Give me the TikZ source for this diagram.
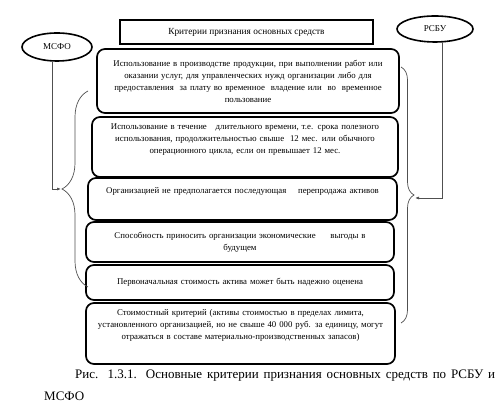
\documentclass[tikz,border=0pt]{standalone}
\usepackage{fontspec}
\setmainfont{Liberation Serif}
\usetikzlibrary{arrows.meta,decorations.pathreplacing,shapes.geometric}
\definecolor{linegray}{HTML}{505050}

\begin{document}
\begin{tikzpicture}[x=1pt,y=1pt,>=Latex,
  critbox/.style={rounded corners=8pt,draw=black,line width=1.7pt,
    text width=296pt,align=center,inner sep=3pt,
    font=\fontsize{8.8}{12}\selectfont},
  lift/.style={text depth=#1},
  oval/.style={ellipse,draw=black,line width=1.6pt,inner sep=0pt,
    font=\fontsize{9}{10}\selectfont},
  arr/.style={-{Latex[length=4pt,width=3pt]},line width=0.7pt,linegray},
  brc/.style={decorate,decoration={brace,amplitude=#1},line width=0.7pt,linegray}]
\useasboundingbox (0,0) rectangle (502,419);

\node[draw=black,line width=1.5pt,minimum width=253pt,minimum height=24pt,
  font=\fontsize{9.3}{11}\selectfont] (title) at (246.5,387)
  {Критерии признания основных средств};

\node[oval,minimum width=70pt,minimum height=28pt] (msfo) at (57,372) {МСФО};
\node[oval,minimum width=76pt,minimum height=26pt] (rsbu) at (435,390) {РСБУ};

\node[critbox,minimum width=302pt,minimum height=64pt] (use) at (248,338)
  {Использование в производстве продукции, при выполнении работ или\\
   оказании услуг, для управленческих нужд организации либо для\\
   предоставления\ \ за плату во временное\ \ владение или\ \ во\ \ временное\\
   пользование};
\node[critbox,lift=40pt,minimum width=306pt,minimum height=60pt] (term) at (245,272)
  {Использование в течение\ \ \ длительного времени, т.е. срока полезного\\
   использования, продолжительностью свыше\ \ 12 мес. или обычного\\
   операционного цикла, если он превышает 12 мес.};
\node[critbox,lift=18pt,minimum width=309pt,minimum height=42pt] (resale) at (242.5,220)
  {Организацией не предполагается последующая\ \ \ \ перепродажа активов};
\node[critbox,minimum width=308pt,minimum height=40pt] (benefit) at (240,177)
  {Способность приносить организации экономические\ \ \ \ \ выгоды в\\
   будущем};
\node[critbox,minimum width=308pt,minimum height=35pt] (cost) at (240,136.5)
  {Первоначальная стоимость актива может быть надежно оценена};
\node[critbox,lift=42pt,minimum width=309pt,minimum height=61pt] (limit) at (240.5,85.5)
  {Стоимостный критерий (активы стоимостью в пределах лимита,\\
   установленного организацией, но не свыше 40 000 руб. за единицу, могут\\
   отражаться в составе материально-производственных запасов)};

% braces
\coordinate (lbot) at (88,132);
\coordinate (ltop) at (88,328);
\coordinate (rtop) at (401,352);
\coordinate (rbot) at (401,96);
\draw[brc=26pt] (lbot) -- (ltop);
\draw[brc=13pt] (rtop) -- (rbot);

\coordinate (msfotip) at (61,230);
\coordinate (rsbutip) at (415,221);
\draw[arr] ([xshift=-5pt]msfo.south) |- (msfotip);
\draw[arr] ([xshift=7pt]rsbu.south) |- (rsbutip);

\node[text width=451pt,align=justify,inner sep=0pt,anchor=north west,
  font=\fontsize{13}{22}\selectfont] (caption) at (44,49)
  {\hspace*{31pt}Рис. 1.3.1. Основные критерии признания основных средств по РСБУ и\linebreak
   МСФО};
\end{tikzpicture}
\end{document}
